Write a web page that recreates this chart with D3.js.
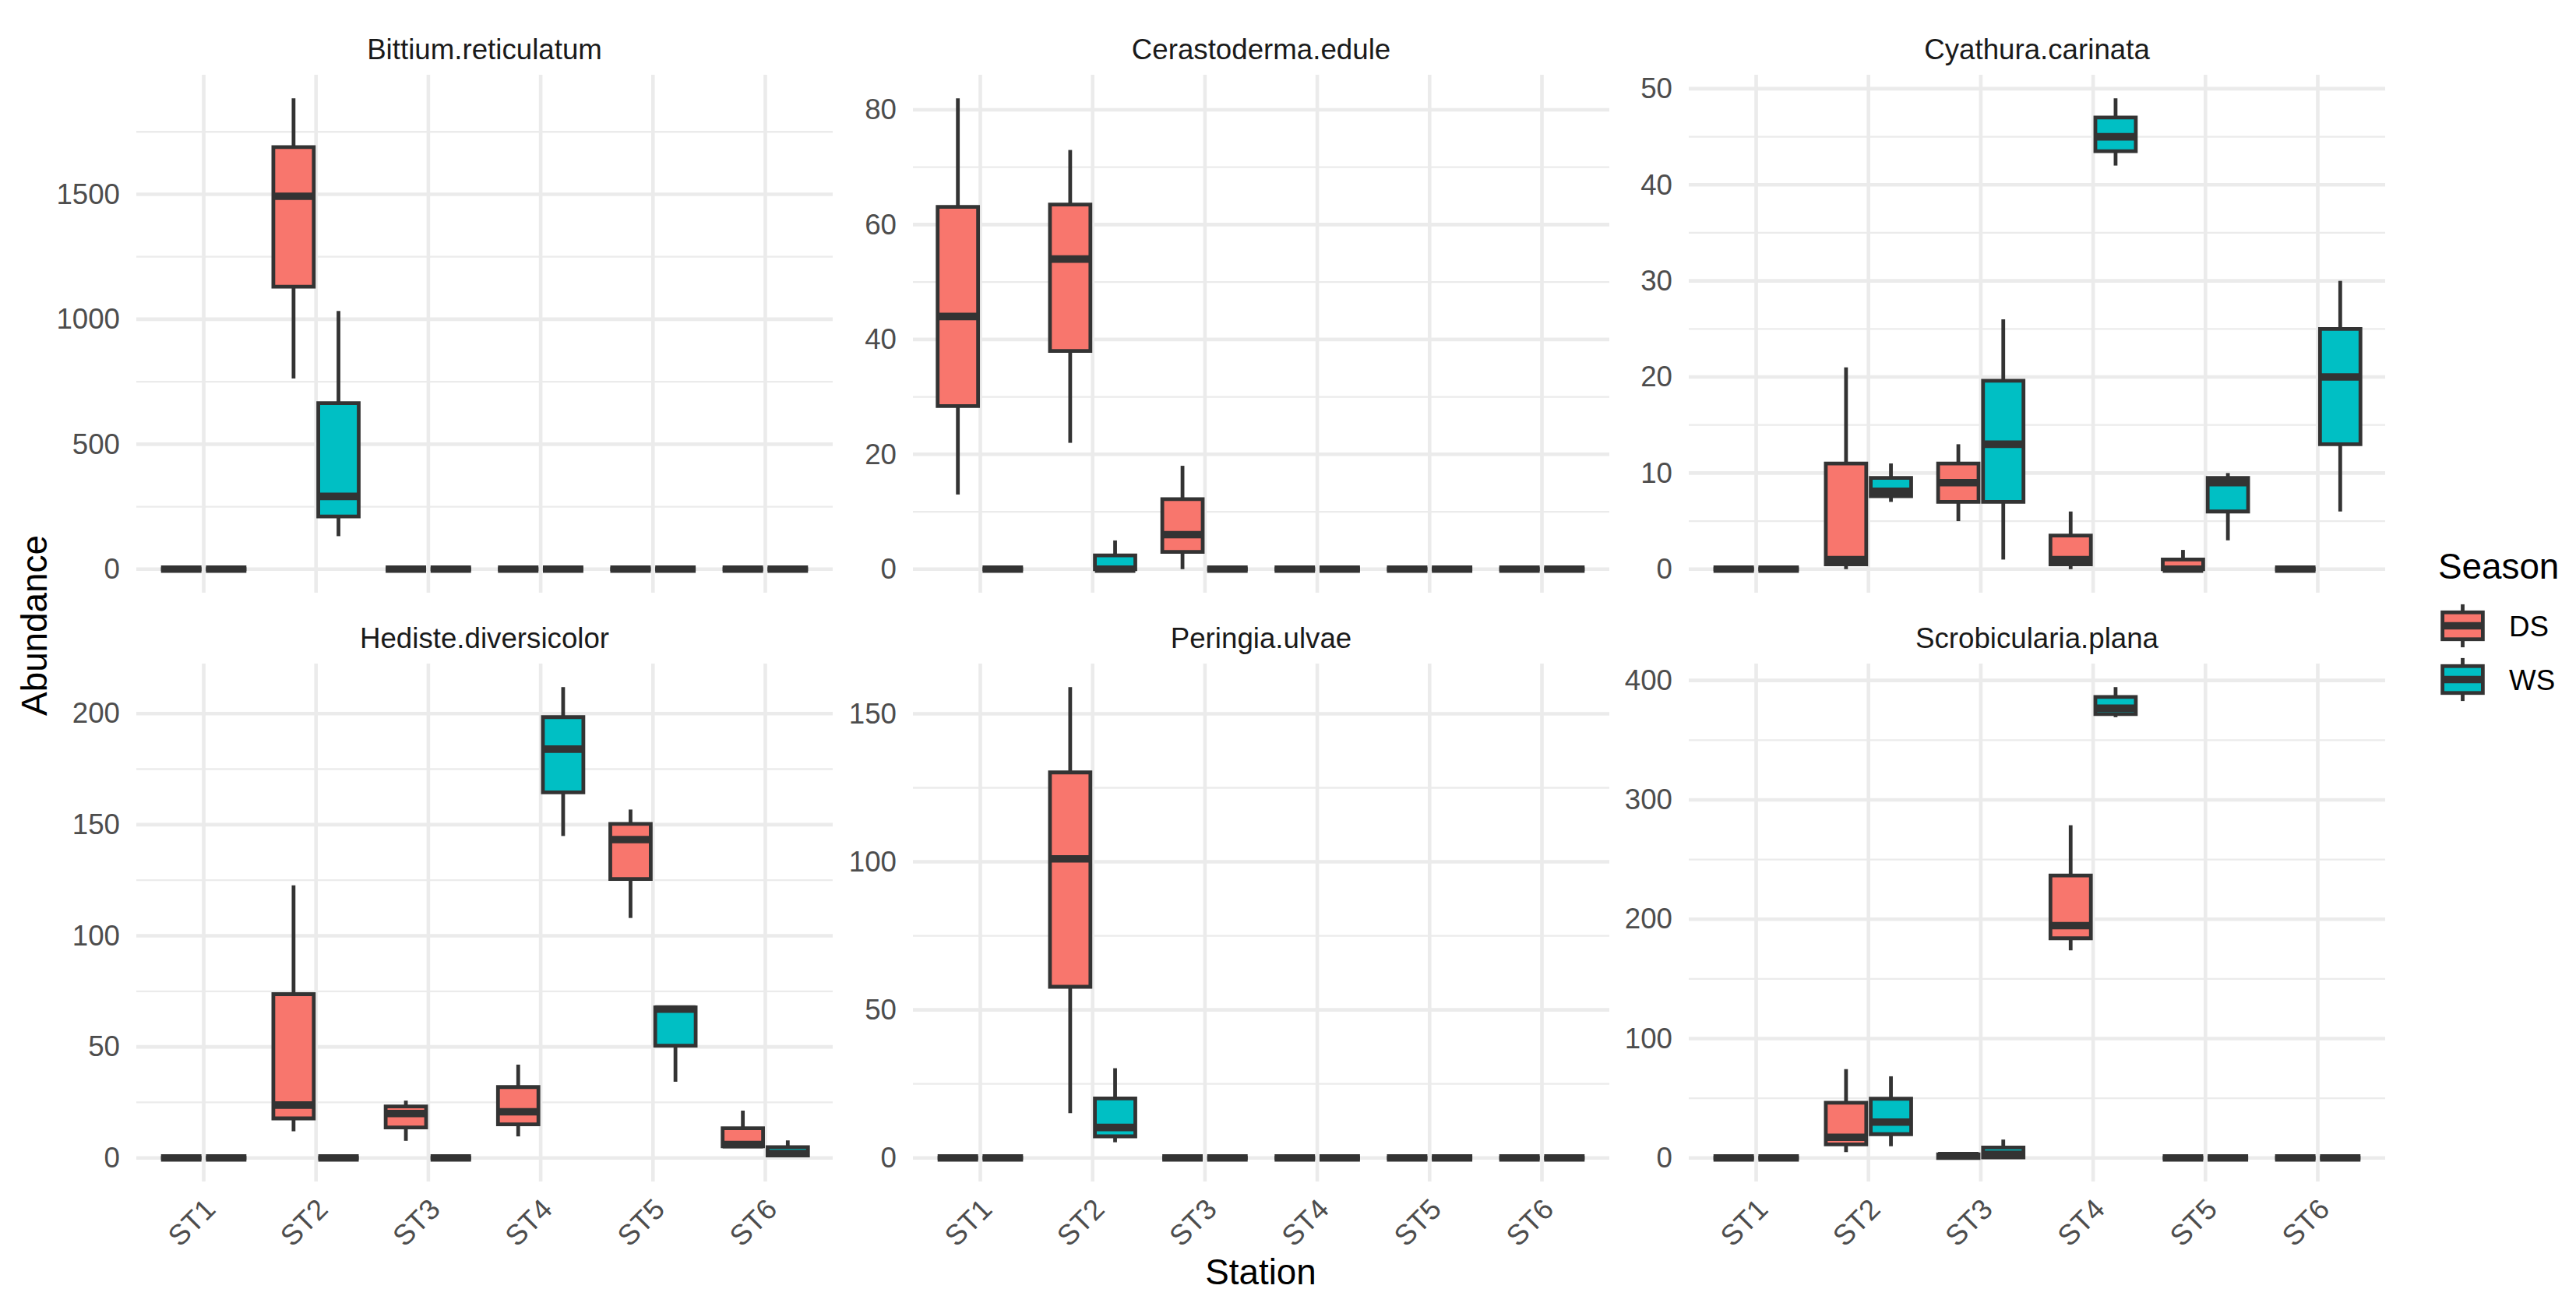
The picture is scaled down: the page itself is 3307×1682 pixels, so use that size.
<!DOCTYPE html>
<html>
<head>
<meta charset="utf-8">
<script src="https://cdn.jsdelivr.net/npm/d3@7"></script>
<style>
  body { margin: 0; background: #fff; }
  svg { display: block; }
  text { font-family: "Liberation Sans", Arial, Helvetica, sans-serif; }
</style>
</head>
<body>
<svg id="chart"></svg>
<script>
"use strict";

// ---- data ----
const stations = ["ST1", "ST2", "ST3", "ST4", "ST5", "ST6"];
const seasons = ["DS", "WS"];
const seasonColors = ["#F8766D", "#00BFC4"];
const species = ["Bittium.reticulatum", "Cerastoderma.edule", "Cyathura.carinata",
                 "Hediste.diversicolor", "Peringia.ulvae", "Scrobicularia.plana"];

// one box per station: [lower whisker, Q1, median, Q3, upper whisker]
const bittiumDS = [[0, 0, 0, 0, 0], [763, 1130, 1492, 1689, 1884], [0, 0, 0, 0, 0], [0, 0, 0, 0, 0], [0, 0, 0, 0, 0], [0, 0, 0, 0, 0]];
const bittiumWS = [[0, 0, 0, 0, 0], [132, 211, 291, 664, 1033], [0, 0, 0, 0, 0], [0, 0, 0, 0, 0], [0, 0, 0, 0, 0], [0, 0, 0, 0, 0]];
const cerastodermaDS = [[13, 28.4, 44, 63.1, 82], [22, 38, 54, 63.5, 73], [0, 3, 6, 12.2, 18], [0, 0, 0, 0, 0], [0, 0, 0, 0, 0], [0, 0, 0, 0, 0]];
const cerastodermaWS = [[0, 0, 0, 0, 0], [0, 0, 0, 2.4, 5], [0, 0, 0, 0, 0], [0, 0, 0, 0, 0], [0, 0, 0, 0, 0], [0, 0, 0, 0, 0]];
const cyathuraDS = [[0, 0, 0, 0, 0], [0, 0.5, 1, 11, 21], [5, 7, 9, 11, 13], [0, 0.5, 1, 3.5, 6], [0, 0, 0, 1, 2], [0, 0, 0, 0, 0]];
const cyathuraWS = [[0, 0, 0, 0, 0], [7, 7.6, 8.1, 9.5, 11], [1, 7, 13, 19.6, 26], [42, 43.5, 45, 47, 49], [3, 6, 9, 9.5, 10], [6, 13, 20, 25, 30]];
const hedisteDS = [[0, 0, 0, 0, 0], [12, 17.8, 23.8, 73.7, 122.7], [7.7, 13.7, 20, 23.2, 25.8], [9.7, 15.1, 20.8, 31.9, 42], [108, 125.5, 143.3, 150.3, 156.8], [5, 5.2, 6, 13.4, 21.3]];
const hedisteWS = [[0, 0, 0, 0, 0], [0, 0, 0, 0, 0], [0, 0, 0, 0, 0], [144.9, 164.5, 184, 198.4, 211.9], [34.3, 50.5, 67, 67.8, 67.8], [1, 1.1, 2, 4.9, 7.9]];
const peringiaDS = [[0, 0, 0, 0, 0], [15.1, 57.8, 101, 130.2, 159], [0, 0, 0, 0, 0], [0, 0, 0, 0, 0], [0, 0, 0, 0, 0], [0, 0, 0, 0, 0]];
const peringiaWS = [[0, 0, 0, 0, 0], [5.3, 7.3, 10.3, 20.1, 30.3], [0, 0, 0, 0, 0], [0, 0, 0, 0, 0], [0, 0, 0, 0, 0], [0, 0, 0, 0, 0]];
const scrobiculariaDS = [[0, 0, 0, 0, 0], [4.9, 11.3, 17.3, 46.2, 74.4], [0, 0, 2, 3, 4], [173.9, 184, 194.6, 236.6, 278.7], [0, 0, 0, 0, 0], [0, 0, 0, 0, 0]];
const scrobiculariaWS = [[0, 0, 0, 0, 0], [9.8, 19.9, 30, 49.6, 68.4], [0, 0.5, 3, 8.7, 15.4], [369.2, 371.8, 376.7, 386.1, 394.4], [0, 0, 0, 0, 0], [0, 0, 0, 0, 0]];

const panels = [
  [bittiumDS, bittiumWS], [cerastodermaDS, cerastodermaWS], [cyathuraDS, cyathuraWS],
  [hedisteDS, hedisteWS], [peringiaDS, peringiaWS], [scrobiculariaDS, scrobiculariaWS]
].map((d, i) => ({ name: species[i], boxes: d }));

// ---- layout ----
const W = 3307, H = 1682;
const panelW = 894, panelH = 665;
const colX = [175, 1172, 2168];
const rowY = [96, 852];
const INK = "#333333";
const GRID = "#EBEBEB";
const fsSmall = 36.7, fsBig = 45.8;

const svg = d3.select("#chart").attr("width", W).attr("height", H);
svg.append("rect").attr("width", W).attr("height", H).attr("fill", "#fff");

const x = d3.scalePoint().domain(stations).range([0, panelW]).padding(0.6);
const step = x.step();
const dodge = d3.scaleBand().domain(seasons)
    .range([-0.4 * step, 0.4 * step])
    .paddingInner(0.1).paddingOuter(0.05);
const color = d3.scaleOrdinal().domain(seasons).range(seasonColors);

panels.forEach((p, i) => {
  const row = Math.floor(i / 3), col = i % 3;
  const g = svg.append("g").attr("transform", `translate(${colX[col]},${rowY[row]})`);

  const all = p.boxes.flat(2);
  const lo = d3.min(all), hi = d3.max(all), r = hi - lo;
  const y = d3.scaleLinear().domain([lo - 0.05 * r, hi + 0.05 * r]).range([panelH, 0]);

  const major = y.ticks(5);
  const tstep = major[1] - major[0];
  const minor = [major[0] - tstep / 2].concat(major.map(t => t + tstep / 2))
      .filter(t => t >= y.domain()[0] && t <= y.domain()[1]);

  // grid
  g.selectAll("line.minor").data(minor).enter().append("line")
      .attr("x1", 0).attr("x2", panelW)
      .attr("y1", d => y(d)).attr("y2", d => y(d))
      .attr("stroke", GRID).attr("stroke-width", 2.3);
  g.selectAll("line.majorY").data(major).enter().append("line")
      .attr("x1", 0).attr("x2", panelW)
      .attr("y1", d => y(d)).attr("y2", d => y(d))
      .attr("stroke", GRID).attr("stroke-width", 4.6);
  g.selectAll("line.majorX").data(stations).enter().append("line")
      .attr("x1", d => x(d)).attr("x2", d => x(d))
      .attr("y1", 0).attr("y2", panelH)
      .attr("stroke", GRID).attr("stroke-width", 4.6);

  // strip title
  g.append("text")
      .attr("x", panelW / 2).attr("y", -20.5)
      .attr("text-anchor", "middle")
      .attr("font-size", fsSmall).attr("fill", "#1A1A1A")
      .text(p.name);

  // y axis
  const ya = g.append("g").call(d3.axisLeft(y).ticks(5).tickSize(0).tickPadding(21).tickFormat(d3.format("d")));
  ya.select(".domain").remove();
  ya.selectAll("text").attr("font-size", fsSmall).attr("fill", "#4D4D4D").attr("font-family", null);

  // x axis only on bottom row
  if (row === 1) {
    const xa = g.append("g").attr("transform", `translate(0,${panelH})`)
        .call(d3.axisBottom(x).tickSize(0).tickPadding(0));
    xa.select(".domain").remove();
    xa.selectAll("text")
        .attr("y", null).attr("dy", "0.72em")
        .attr("text-anchor", "end")
        .attr("transform", "translate(-2,19) rotate(-45)")
        .attr("font-size", fsSmall).attr("fill", "#4D4D4D").attr("font-family", null);
  }

  // boxes
  const items = [];
  stations.forEach((st, si) => seasons.forEach((s, k) => {
    items.push({ st, s, v: p.boxes[k][si] });
  }));
  const bw = dodge.bandwidth();
  const bg = g.selectAll("g.box").data(items).enter().append("g")
      .attr("transform", d => `translate(${x(d.st) + dodge(d.s)},0)`);
  bg.append("line")
      .attr("x1", bw / 2).attr("x2", bw / 2)
      .attr("y1", d => y(d.v[4])).attr("y2", d => y(d.v[3]))
      .attr("stroke", INK).attr("stroke-width", 4.8);
  bg.append("line")
      .attr("x1", bw / 2).attr("x2", bw / 2)
      .attr("y1", d => y(d.v[1])).attr("y2", d => y(d.v[0]))
      .attr("stroke", INK).attr("stroke-width", 4.8);
  bg.append("path")
      .attr("d", d => `M0,${y(d.v[3])}H${bw}V${y(d.v[1])}H0Z`)
      .attr("fill", d => color(d.s))
      .attr("stroke", INK).attr("stroke-width", 4.8)
      .attr("stroke-linejoin", "miter");
  bg.append("line")
      .attr("x1", 0).attr("x2", bw)
      .attr("y1", d => y(d.v[2])).attr("y2", d => y(d.v[2]))
      .attr("stroke", INK).attr("stroke-width", 9.6);
});

// axis titles
svg.append("text")
    .attr("x", (colX[0] + colX[2] + panelW) / 2).attr("y", 1649)
    .attr("text-anchor", "middle").attr("font-size", fsBig).attr("fill", "#000")
    .text("Station");
svg.append("text")
    .attr("transform", "translate(60,803) rotate(-90)")
    .attr("text-anchor", "middle").attr("font-size", fsBig).attr("fill", "#000")
    .text("Abundance");

// legend
const leg = svg.append("g").attr("transform", "translate(3127,769)");
leg.append("text").attr("x", 3).attr("y", -26)
    .attr("font-size", fsBig).attr("fill", "#000").text("Season");
const key = 69;
seasons.forEach((s, i) => {
  const k = leg.append("g").attr("transform", `translate(0,${i * key})`);
  k.append("line").attr("x1", key / 2).attr("x2", key / 2)
      .attr("y1", key * 0.1).attr("y2", key * 0.9)
      .attr("stroke", INK).attr("stroke-width", 4.8);
  k.append("rect")
      .attr("x", key * 0.125).attr("y", key * 0.25)
      .attr("width", key * 0.75).attr("height", key * 0.5)
      .attr("fill", color(s)).attr("stroke", INK).attr("stroke-width", 4.8);
  k.append("line").attr("x1", key * 0.125).attr("x2", key * 0.875)
      .attr("y1", key / 2).attr("y2", key / 2)
      .attr("stroke", INK).attr("stroke-width", 9.6);
  k.append("text").attr("x", 94).attr("y", key / 2).attr("dy", "0.36em")
      .attr("font-size", fsSmall).attr("fill", "#000").text(s);
});
</script>
</body>
</html>
